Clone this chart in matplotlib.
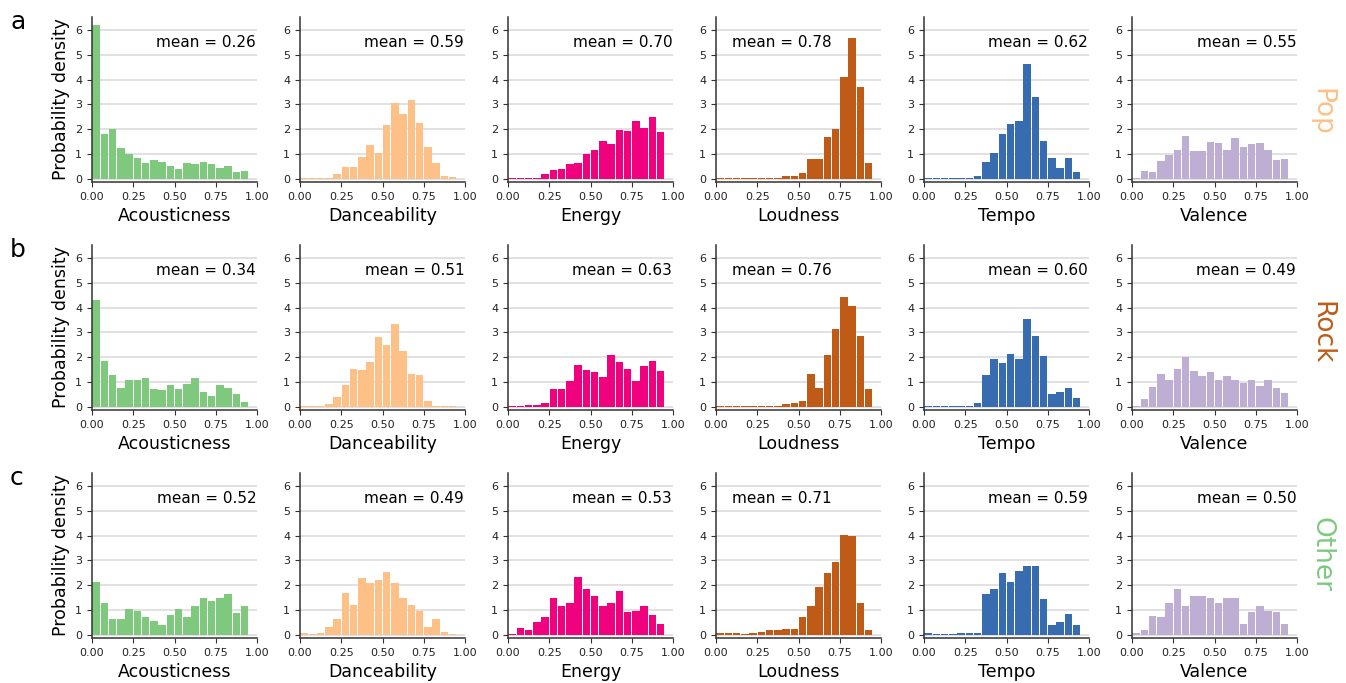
import matplotlib
matplotlib.use("Agg")
import matplotlib.pyplot as plt
import numpy as np

features = ["Acousticness", "Danceability", "Energy", "Loudness", "Tempo", "Valence"]
feature_colors = ["#7fc97f", "#fdc086", "#f0027f", "#bf5b17", "#386cb0", "#beaed4"]
genres = ["Pop", "Rock", "Other"]
genre_colors = ["#fdc086", "#bf5b17", "#7fc97f"]
panel_letters = ["a", "b", "c"]

# 19 bins of width 0.05 from 0 to 0.95
bin_edges = np.arange(19) * 0.05

pop = {
    "Acousticness": [6.2, 1.8, 2.0, 1.25, 1.0, 0.83, 0.63, 0.75, 0.67, 0.5, 0.38, 0.62, 0.58, 0.67, 0.58, 0.42, 0.5, 0.27, 0.3],
    "Danceability": [0.02, 0.02, 0.02, 0.05, 0.18, 0.47, 0.47, 0.87, 1.37, 1.03, 2.18, 3.07, 2.62, 3.2, 2.25, 1.28, 0.63, 0.13, 0.06],
    "Energy": [0.02, 0.02, 0.05, 0.05, 0.18, 0.35, 0.38, 0.6, 0.63, 1.0, 1.15, 1.53, 1.4, 1.98, 1.93, 2.35, 2.05, 2.5, 1.9],
    "Loudness": [0.02, 0.02, 0.02, 0.02, 0.02, 0.02, 0.02, 0.02, 0.1, 0.1, 0.22, 0.8, 0.8, 1.7, 2.02, 4.1, 5.7, 3.72, 0.63],
    "Tempo": [0.02, 0.02, 0.02, 0.02, 0.02, 0.02, 0.1, 0.68, 1.03, 1.82, 2.22, 2.35, 4.62, 3.32, 1.53, 0.83, 0.43, 0.83, 0.27],
    "Valence": [0.02, 0.3, 0.27, 0.72, 0.95, 1.15, 1.73, 1.12, 1.12, 1.48, 1.43, 1.15, 1.65, 1.28, 1.4, 1.43, 1.15, 0.75, 0.8],
}
rock = {
    "Acousticness": [4.33, 1.85, 1.27, 0.75, 1.1, 1.1, 1.18, 0.7, 0.67, 0.87, 0.7, 0.9, 1.18, 0.58, 0.42, 0.87, 0.75, 0.5, 0.2],
    "Danceability": [0.02, 0.02, 0.02, 0.13, 0.38, 0.87, 1.52, 1.47, 1.8, 2.82, 2.5, 3.35, 2.25, 1.32, 1.27, 0.25, 0.05, 0.05, 0.02],
    "Energy": [0.02, 0.05, 0.08, 0.08, 0.17, 0.7, 0.7, 1.03, 1.68, 1.47, 1.4, 1.2, 2.08, 1.8, 1.52, 1.03, 1.63, 1.83, 1.43],
    "Loudness": [0.05, 0.02, 0.05, 0.02, 0.02, 0.02, 0.05, 0.02, 0.1, 0.17, 0.25, 1.32, 0.75, 2.08, 3.15, 4.42, 4.08, 2.87, 0.7],
    "Tempo": [0.02, 0.02, 0.02, 0.02, 0.04, 0.05, 0.17, 1.27, 1.92, 1.77, 2.13, 1.92, 3.55, 2.87, 2.05, 0.5, 0.58, 0.75, 0.37],
    "Valence": [0.02, 0.3, 0.78, 1.32, 1.1, 1.52, 2.0, 1.43, 1.23, 1.4, 1.1, 1.23, 1.1, 0.95, 1.1, 0.83, 1.1, 0.75, 0.55],
}
other = {
    "Acousticness": [2.15, 1.27, 0.65, 0.65, 1.05, 0.98, 0.7, 0.57, 0.4, 0.78, 1.05, 0.7, 1.18, 1.47, 1.35, 1.47, 1.63, 0.87, 1.18],
    "Danceability": [0.08, 0.02, 0.08, 0.32, 0.65, 1.67, 1.22, 2.28, 2.08, 2.2, 2.52, 2.08, 1.5, 1.22, 0.98, 0.32, 0.65, 0.12, 0.02],
    "Energy": [0.02, 0.28, 0.2, 0.53, 0.73, 1.5, 1.18, 1.27, 2.32, 1.83, 1.58, 1.18, 1.3, 1.78, 0.93, 0.98, 1.18, 0.78, 0.45],
    "Loudness": [0.08, 0.08, 0.08, 0.02, 0.08, 0.12, 0.2, 0.2, 0.25, 0.25, 0.73, 1.18, 1.92, 2.48, 2.93, 4.03, 4.0, 1.27, 0.2],
    "Tempo": [0.08, 0.02, 0.02, 0.02, 0.08, 0.08, 0.08, 1.63, 1.83, 2.48, 2.12, 2.57, 2.77, 2.77, 1.43, 0.4, 0.53, 0.85, 0.4],
    "Valence": [0.08, 0.2, 0.77, 0.73, 1.3, 1.83, 1.18, 1.58, 1.58, 1.5, 1.27, 1.5, 1.47, 0.45, 0.93, 1.18, 0.98, 0.93, 0.45],
}
data = [pop, rock, other]

means = [
    [0.26, 0.59, 0.70, 0.78, 0.62, 0.55],
    [0.34, 0.51, 0.63, 0.76, 0.60, 0.49],
    [0.52, 0.49, 0.53, 0.71, 0.59, 0.50],
]

W, H = 1346, 683
fig = plt.figure(figsize=(W / 100, H / 100), dpi=100)

ax_left0 = 92 / W
ax_w = 165 / W
ax_dx = 208 / W
ax_h = 165 / H
row_tops = [17, 245, 473]

for r in range(3):
    bottom = 1 - (row_tops[r] + 165) / H
    for c, feat in enumerate(features):
        ax = fig.add_axes([ax_left0 + c * ax_dx, bottom, ax_w, ax_h])
        ax.set_axisbelow(True)
        ax.bar(bin_edges + 0.0025, data[r][feat], width=0.045, align="edge",
               color=feature_colors[c], linewidth=0)
        ax.set_xlim(0, 1)
        ax.set_ylim(-0.13, 6.53)
        ax.set_yticks(range(7))
        ax.set_xticks([0, 0.25, 0.5, 0.75, 1.0])
        ax.set_xticklabels(["0.00", "0.25", "0.50", "0.75", "1.00"])
        ax.tick_params(labelsize=8, length=3.5, color="#333333", labelcolor="#222222")
        ax.yaxis.grid(True, color="#d9d9d9", linewidth=1.1)
        for s in ["top", "right"]:
            ax.spines[s].set_visible(False)
        for s in ["left", "bottom"]:
            ax.spines[s].set_color("#333333")
            ax.spines[s].set_linewidth(1.1)
        ax.set_xlabel(feat, fontsize=12.5, labelpad=4)
        if c == 0:
            ax.set_ylabel("Probability density", fontsize=12.5, labelpad=4)
        txt = "mean = %.2f" % means[r][c]
        if feat == "Loudness":
            ax.text(0.1, 5.5, txt, ha="left", va="center", fontsize=11)
        else:
            ax.text(0.995, 5.5, txt, ha="right", va="center", fontsize=11)
    fig.text(10 / W, 1 - (row_tops[r] + 5) / H, panel_letters[r], fontsize=18,
             ha="left", va="center")
    fig.text(1321 / W, 1 - (row_tops[r] + 119) / H, genres[r], fontsize=19, rotation=-90,
             color=genre_colors[r], ha="center", va="bottom")

fig.savefig("out.png", dpi=100)
